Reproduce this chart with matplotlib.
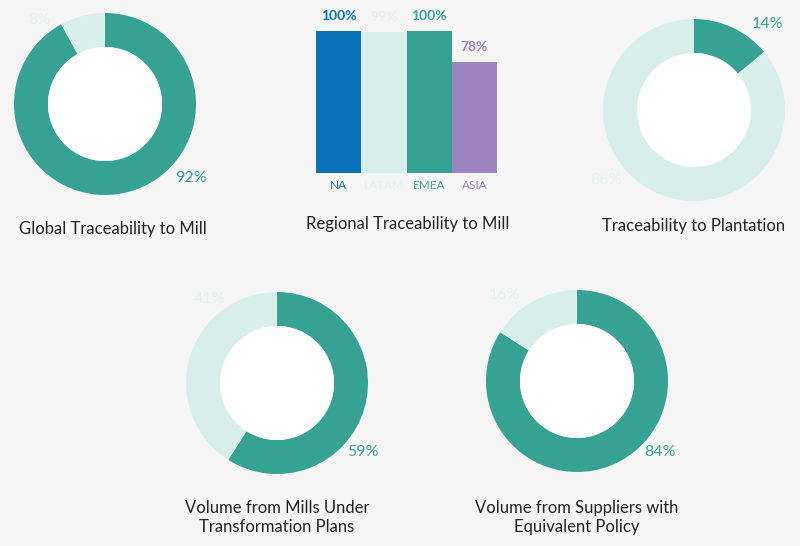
import matplotlib
matplotlib.use("Agg")
import matplotlib.pyplot as plt

plt.rcParams['font.family'] = ['Lato', 'DejaVu Sans']

TEAL = "#35a294"
LIGHT = "#d8eeea"
LIGHT_TXT = "#e4f2ef"
DARK = "#222222"

# donut data: (share traced, remainder)
global_mill = [92, 8]
plantation = [14, 86]
mills_transform = [59, 41]
suppliers_policy = [84, 16]

# regional bars
regions = ["NA", "LATAM", "EMEA", "ASIA"]
region_vals = [100, 99, 100, 78]
region_cols = ["#0a72b9", "#d8eeea", "#35a294", "#9b84c0"]
region_txt = ["#0a72b9", "#e4f2ef", "#35a294", "#9b84c0"]

W, H = 800, 546
fig = plt.figure(figsize=(8, 5.46), dpi=100)
fig.patch.set_facecolor("#f5f5f5")


def px_axes(x0, y0, w, h):
    # x0,y0 = top-left in pixel coordinates
    return fig.add_axes([x0 / W, (H - y0 - h) / H, w / W, h / H])


def donut(cx, cy, r, vals, main_lbl, minor_lbl, title_lines, title_pos):
    ax = px_axes(cx - r, cy - r, 2 * r, 2 * r)
    hole = 57 / 91
    ax.pie(vals, colors=[TEAL, LIGHT], startangle=90, counterclock=False,
           radius=1, wedgeprops=dict(width=1 - hole, linewidth=0))
    ax.add_patch(plt.Circle((0, 0), hole, color="white", linewidth=0))
    ax.set_xlim(-1, 1)
    ax.set_ylim(-1, 1)
    ax.set_aspect("equal")
    ax.axis("off")
    mx, my = main_lbl
    ax.text(mx, my, f"{vals[0]}%", color=TEAL, fontsize=11.5, ha="center", va="center")
    nx, ny = minor_lbl
    ax.text(nx, ny, f"{vals[1]}%", color=LIGHT_TXT, fontsize=11.5, ha="center", va="center")
    tx, ty = title_pos
    for i, line in enumerate(title_lines):
        fig.text(tx / W, 1 - (ty + i * 19) / H, line, color=DARK,
                 fontsize=12, ha="center", va="center")


donut(105, 104, 91, global_mill, (0.94, -0.81), (-0.72, 0.92),
      ["Global Traceability to Mill"], (113, 229))
donut(694, 110, 91, plantation, (0.81, 0.94), (-0.97, -0.77),
      ["Traceability to Plantation"], (694, 226))
donut(277, 383, 91, mills_transform, (0.94, -0.76), (-0.74, 0.92),
      ["Volume from Mills Under", "Transformation Plans"], (277, 508))
donut(577, 381, 91, suppliers_policy, (0.91, -0.78), (-0.8, 0.94),
      ["Volume from Suppliers with", "Equivalent Policy"], (577, 508))

# regional bar chart
bx = px_axes(316, 31, 181, 142)
pos = range(len(regions))
bx.bar(pos, region_vals, width=1.0, color=region_cols, linewidth=0)
bx.set_xlim(-0.5, 3.5)
bx.set_ylim(0, 100)
bx.axis("off")
for i, v in enumerate(region_vals):
    bx.annotate(f"{v}%", (i, v), xytext=(0, 11), textcoords="offset points",
                ha="center", va="center", color=region_txt[i], fontsize=10,
                fontweight="bold")
    bx.annotate(regions[i], (i, 0), xytext=(0, -9), textcoords="offset points",
                ha="center", va="center", color=region_txt[i], fontsize=8.5)
fig.text(408 / W, 1 - 224 / H, "Regional Traceability to Mill", color=DARK,
         fontsize=12, ha="center", va="center")

fig.savefig("out.png", dpi=100, facecolor=fig.get_facecolor())
